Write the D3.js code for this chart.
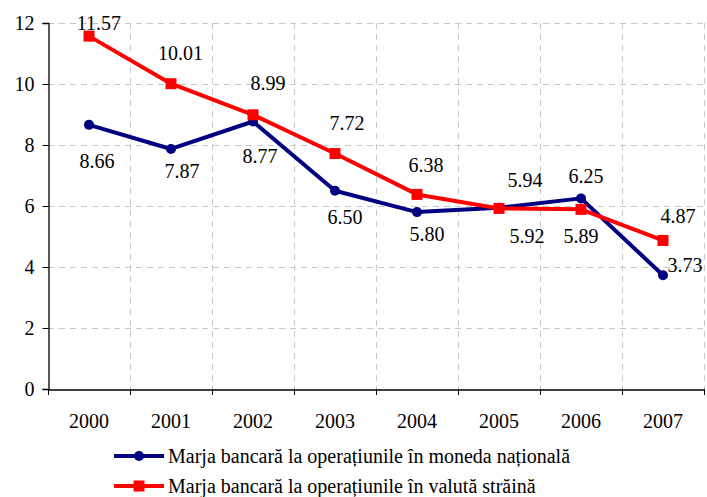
<!DOCTYPE html>
<html><head><meta charset="utf-8">
<script src="https://cdn.jsdelivr.net/npm/d3@7"></script>
<style>body{margin:0;background:#fff}</style>
</head><body><svg id="c" width="707" height="497"></svg>
<script>
const years = ["2000","2001","2002","2003","2004","2005","2006","2007"];
const nationalValues = [8.66, 7.87, 8.77, 6.50, 5.80, 5.94, 6.25, 3.73];
const foreignValues = [11.57, 10.01, 8.99, 7.72, 6.38, 5.92, 5.89, 4.87];
const yTicks = [0, 2, 4, 6, 8, 10, 12];
const seriesNames = ["Marja bancară la operațiunile în moneda națională", "Marja bancară la operațiunile în valută străină"];
// label offsets (dx, dy of baseline) relative to each point
const nationalLabelOffsets = [[8,43],[11,29],[7,41],[10,33],[10,29],[26,-21],[5,-15],[22,-3]];
const foreignLabelOffsets = [[10,-6],[9.5,-24],[15,-25],[12,-24],[9,-22],[28,35],[0,34],[15,-17]];

(function(){
const FONT = "'Liberation Serif', Tinos, 'Times New Roman', Times, 'DejaVu Serif', serif";
const svg = d3.select("#c");
const mLeft = 48, mRight = 704, mTop = 23, mBottom = 389;
const x = d3.scaleBand().domain(years).range([mLeft, mRight]).padding(0);
const y = d3.scaleLinear().domain([0, 12]).range([mBottom, mTop]);
const cx = d => x(d) + x.bandwidth() / 2;

// gridlines
const grid = svg.append("g").attr("stroke", "#c8c8c8").attr("stroke-dasharray", "6,5").attr("stroke-width", 1);
grid.selectAll("line.h").data(yTicks.filter(t => t > 0)).join("line")
  .attr("x1", mLeft).attr("x2", mRight).attr("y1", d => Math.round(y(d)) + 0.5).attr("y2", d => Math.round(y(d)) + 0.5);
const vpos = d3.range(1, years.length + 1).map(i => Math.round(mLeft + i * x.bandwidth()) + 0.5);
grid.selectAll("line.v").data(vpos).join("line")
  .attr("x1", d => d).attr("x2", d => d).attr("y1", mTop).attr("y2", mBottom);

// axes
const yAxis = d3.axisLeft(y).tickValues(yTicks).tickSize(6).tickPadding(8).tickFormat(d3.format("d"));
const gy = svg.append("g").attr("transform", `translate(${mLeft + 0.5},0)`).call(yAxis);
gy.attr("font-family", null);
gy.select(".domain").attr("stroke", "#000").attr("stroke-width", 1.3);
gy.selectAll(".tick line").attr("stroke", "#000");
gy.selectAll(".tick text").attr("font-size", 20).attr("fill", "#000").style("font-family", FONT);

const xAxis = d3.axisBottom(x).tickSize(0).tickPadding(24);
const gx = svg.append("g").attr("transform", `translate(0,${mBottom + 0.5})`).call(xAxis);
gx.attr("font-family", null);
gx.select(".domain").attr("stroke", "#000").attr("stroke-width", 1.3);
gx.selectAll(".tick text").attr("font-size", 20).attr("fill", "#000").style("font-family", FONT);
// boundary tick marks
svg.append("g").selectAll("line").data(d3.range(years.length + 1)).join("line")
  .attr("x1", i => Math.round(mLeft + i * x.bandwidth()) + 0.5).attr("x2", i => Math.round(mLeft + i * x.bandwidth()) + 0.5)
  .attr("y1", mBottom).attr("y2", mBottom + 6).attr("stroke", "#000");

const line = d3.line().x((d,i) => cx(years[i])).y(d => y(d));

function drawSeries(values, color, marker, offsets) {
  svg.append("path").datum(values).attr("d", line).attr("fill", "none")
    .attr("stroke", color).attr("stroke-width", 4).attr("stroke-linejoin", "round");
  if (marker === "circle") {
    svg.append("g").selectAll("circle").data(values).join("circle")
      .attr("cx", (d,i) => cx(years[i])).attr("cy", d => y(d)).attr("r", 5).attr("fill", color);
  } else {
    svg.append("g").selectAll("rect").data(values).join("rect")
      .attr("x", (d,i) => cx(years[i]) - 5.5).attr("y", d => y(d) - 5.5).attr("width", 11).attr("height", 11).attr("fill", color);
  }
  svg.append("g").selectAll("text").data(values).join("text")
    .attr("x", (d,i) => cx(years[i]) + offsets[i][0]).attr("y", (d,i) => y(d) + offsets[i][1])
    .attr("text-anchor", "middle").attr("font-size", 20).attr("fill", "#000").style("font-family", FONT)
    .text(d => d3.format(".2f")(d));
}
drawSeries(nationalValues, "#000080", "circle", nationalLabelOffsets);
drawSeries(foreignValues, "#ff0000", "square", foreignLabelOffsets);

// legend
const legend = svg.append("g");
const legendRows = [{name: seriesNames[0], color: "#000080", marker: "circle"}, {name: seriesNames[1], color: "#ff0000", marker: "square"}];
legendRows.forEach((r, i) => {
  const ly = 456 + i * 30;
  legend.append("line").attr("x1", 114).attr("x2", 164).attr("y1", ly).attr("y2", ly).attr("stroke", r.color).attr("stroke-width", 4);
  if (r.marker === "circle") legend.append("circle").attr("cx", 139).attr("cy", ly).attr("r", 5).attr("fill", r.color);
  else legend.append("rect").attr("x", 133.5).attr("y", ly - 5.5).attr("width", 11).attr("height", 11).attr("fill", r.color);
  legend.append("text").attr("x", 168).attr("y", ly + 7).attr("font-size", 20).attr("fill", "#000").style("font-family", FONT).text(r.name);
});
})();
</script></body></html>
